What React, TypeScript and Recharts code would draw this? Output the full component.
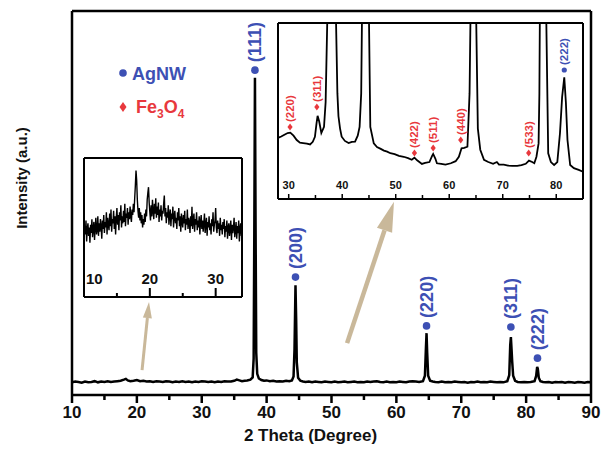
import { ComposedChart, Line, Scatter, XAxis, YAxis, ReferenceLine, Legend } from 'recharts'

const FONT = '"Liberation Sans", Arial, Helvetica, sans-serif'
const BLUE = '#3d50b4'
const RED = '#e8383d'
const TAN = '#c9b89a'

// main XRD pattern (2 theta in degrees, intensity in arbitrary units)
const mainAngles = [
  10, 10.5, 11, 11.5, 12, 12.5, 13, 13.5, 14, 14.5, 15, 15.5, 16, 16.5, 17, 17.5, 18, 18.3, 18.6, 19,
  19.5, 20, 20.5, 21, 21.5, 22, 22.5, 23, 23.5, 24, 24.5, 25, 25.5, 26, 26.5, 27, 27.5, 28, 28.5, 29,
  29.5, 30, 30.5, 31, 31.5, 32, 32.5, 33, 33.5, 34, 34.5, 35, 35.4, 35.8, 36.2, 36.6, 37, 37.5, 37.85, 38,
  38.1, 38.2, 38.3, 38.4, 38.55, 38.8, 39.2, 39.6, 40, 40.5, 41, 41.5, 42, 42.5, 43, 43.5, 43.9, 44.15, 44.3, 44.45,
  44.55, 44.65, 44.85, 45.2, 45.6, 46, 46.5, 47, 47.5, 48, 48.5, 49, 49.5, 50, 50.5, 51, 51.5, 52, 52.5, 53,
  53.5, 54, 54.5, 55, 55.5, 56, 56.5, 57, 57.5, 58, 58.5, 59, 59.5, 60, 60.5, 61, 61.5, 62, 62.5, 63,
  63.5, 64.1, 64.4, 64.55, 64.65, 64.75, 64.9, 65.2, 65.6, 66, 66.5, 67, 67.5, 68, 68.5, 69, 69.5, 70, 70.5, 71,
  71.5, 72, 72.5, 73, 73.5, 74, 74.5, 75, 75.5, 76, 76.5, 77.1, 77.4, 77.55, 77.65, 77.75, 77.85, 78, 78.3, 78.7,
  79.2, 79.7, 80.2, 80.7, 81.3, 81.55, 81.7, 81.8, 81.95, 82.2, 82.6, 83, 83.5, 84, 84.5, 85, 85.5, 86, 86.5, 87,
  87.5, 88, 88.5, 89, 89.5, 90,
]
const mainCounts = [
  33, 35, 34, 32, 35, 33, 34, 36, 33, 35, 34, 36, 34, 35, 36, 37, 40, 42, 38, 36,
  37, 39, 36, 37, 35, 36, 34, 36, 35, 34, 36, 35, 33, 35, 34, 36, 34, 35, 33, 35,
  34, 36, 35, 34, 35, 33, 35, 34, 36, 35, 35, 37, 40, 38, 36, 37, 38, 40, 46, 95,
  420, 826, 430, 110, 55, 43, 39, 37, 38, 36, 37, 35, 36, 35, 37, 36, 38, 48, 120, 286,
  200, 85, 45, 37, 35, 34, 35, 33, 35, 34, 33, 35, 34, 33, 35, 33, 34, 35, 33, 34,
  35, 33, 34, 33, 35, 34, 35, 36, 34, 33, 35, 33, 34, 33, 35, 34, 33, 35, 36, 35,
  34, 36, 50, 120, 161, 110, 50, 37, 35, 34, 33, 35, 33, 34, 33, 35, 34, 33, 34, 32,
  34, 33, 35, 33, 34, 33, 35, 34, 33, 34, 33, 36, 52, 130, 151, 120, 88, 50, 37, 34,
  33, 34, 33, 34, 36, 50, 73, 68, 45, 36, 34, 33, 34, 32, 34, 33, 34, 32, 34, 33,
  32, 34, 33, 32, 34, 33,
]
const mainTicks = [10, 15, 20, 25, 30, 35, 40, 45, 50, 55, 60, 65, 70, 75, 80, 85, 90]

// Ag reflections marked on the main pattern
const agAngles = [38.2, 44.45, 64.65, 77.65, 81.75]
const agLevels = [846, 307, 180, 177, 96]
const agLabels = ['(111)', '(200)', '(220)', '(311)', '(222)']

// arrows pointing to the insets, in data coordinates [angle, intensity]
const arrowSmall = [[20.8, 65], [21.87, 242]]
const arrowBig = [[52.4, 135], [59.63, 503]]

// low angle inset, scan from 10 degrees with 0.1 degree step
const lowScanStart = 10
const lowScanStep = 0.1
const lowCounts = [
  42, 51, 45, 55, 40, 49, 53, 44, 50, 39,
  52, 46, 56, 43, 49, 54, 41, 50, 57, 45,
  48, 58, 44, 53, 47, 56, 51, 42, 55, 49,
  59, 46, 54, 50, 61, 45, 57, 52, 48, 60,
  51, 63, 47, 56, 53, 62, 49, 58, 45, 57,
  64, 52, 59, 48, 61, 55, 66, 50, 58, 53,
  62, 54, 67, 51, 60, 57, 64, 52, 61, 56,
  65, 58, 54, 63, 59, 67, 61, 71, 80, 91,
  84, 70, 62, 57, 64, 55, 61, 53, 59, 50,
  56, 52, 60, 54, 63, 58, 70, 75, 79, 68,
  61, 55, 66, 58, 70, 62, 56, 67, 60, 71,
  57, 65, 59, 68, 54, 63, 58, 66, 55, 62,
  60, 67, 73, 58, 64, 53, 61, 57, 66, 52,
  59, 63, 51, 60, 56, 65, 50, 58, 62, 53,
  57, 49, 61, 55, 64, 51, 58, 47, 60, 54,
  50, 59, 53, 62, 48, 56, 52, 63, 49, 57,
  54, 46, 58, 51, 65, 49, 55, 60, 47, 56,
  52, 61, 48, 55, 50, 58, 45, 54, 59, 49,
  55, 47, 53, 60, 46, 52, 57, 44, 54, 50,
  58, 48, 53, 45, 56, 51, 61, 47, 52, 55,
  64, 50, 46, 55, 49, 53, 44, 57, 48, 52,
  45, 54, 49, 56, 43, 51, 47, 55, 42, 50,
  53, 44, 49, 55, 41, 52, 46, 50, 57, 43,
  48, 54, 42, 51, 46, 55, 40, 49, 53, 44,
  48,
]
const lowTicks = [10, 15, 20, 25, 30]

// magnified inset of the 28-85 degree range
const zoomAngles = [
  28, 28.6, 29.2, 29.8, 30.3, 30.9, 31.5, 32.1, 32.7, 33.4, 34, 34.5, 34.9, 35.2, 35.4, 35.7, 36.1, 36.6, 36.9, 37.2,
  37.35, 38.2, 38.7, 38.85, 39.1, 39.3, 39.6, 39.9, 40.5, 41.2, 41.8, 42.4, 42.9, 43.25, 43.55, 43.72, 43.85, 44.4, 44.85, 44.97,
  45.25, 45.9, 46.5, 47.2, 47.8, 48.4, 49, 49.8, 50.6, 51.5, 52.3, 53, 53.5, 54, 54.9, 55.5, 56.3, 56.8, 57, 57.4,
  57.7, 58.5, 59.3, 60.3, 61.2, 61.8, 62.3, 62.8, 63.4, 63.8, 64, 64.1, 64.55, 64.9, 65, 65.35, 65.8, 66.5, 67.3, 68.2,
  68.9, 69.3, 70.2, 71, 71.8, 72.7, 73.5, 74.3, 74.9, 75.5, 75.9, 76.3, 76.7, 76.85, 76.95, 77.05, 77.6, 78, 78.1, 78.5,
  79, 79.6, 80.2, 80.7, 81.1, 81.5, 81.8, 82.1, 82.6, 83.3, 84.2, 85,
]
const zoomCounts = [
  34.7, 35.5, 36.5, 37.5, 37.7, 36, 33.5, 32, 31.8, 31.5, 31, 32.5, 35.3, 43, 47.3, 44, 37.5, 41, 55, 100,
  400, 3000, 400, 100, 60, 47, 40, 35.4, 33, 31.8, 32.5, 32.6, 36, 41, 60, 110, 400, 3000, 400, 110,
  41, 31.6, 29.5, 28.5, 27.5, 26.9, 26, 25.5, 24.5, 24, 23.2, 22.3, 23.5, 22, 19.9, 20.5, 21, 24.5, 25.6, 23,
  20.3, 20, 19.5, 20.3, 21.5, 24, 28.8, 29, 29.7, 60, 110, 400, 3000, 400, 110, 40, 28, 22.2, 21, 20,
  21, 19.5, 19.5, 19, 18.8, 18.8, 19.2, 20, 21.8, 21, 20.3, 24, 31.6, 60, 110, 400, 3000, 400, 110, 26,
  21, 19.3, 21, 37.5, 58, 69.1, 55, 33.5, 19.3, 17.5, 16.5, 15.5,
]
const zoomTicks = [30, 35, 40, 45, 50, 55, 60, 65, 70, 75, 80, 85]

// reflections marked in the magnified inset
const zoomPeakAngles = [30.25, 35.26, 53.5, 57.0, 62.15, 74.85, 81.5]
const zoomPeakLevels = [40.9, 52.3, 26.1, 29, 33.5, 26.1, 73.3]
const zoomPeakLabels = ['(220)', '(311)', '(422)', '(511)', '(440)', '(533)', '(222)']
const zoomPeakPhases = ['Fe3O4', 'Fe3O4', 'Fe3O4', 'Fe3O4', 'Fe3O4', 'Fe3O4', 'AgNW']

const mainData = mainAngles.map((angle, i) => ({ angle, counts: mainCounts[i] }))
const agData = agAngles.map((angle, i) => ({ angle, level: agLevels[i], label: agLabels[i] }))
const lowData = lowCounts.map((counts, i) => ({ angle: lowScanStart + i * lowScanStep, counts }))
const zoomData = zoomAngles.map((angle, i) => ({ angle, counts: zoomCounts[i] }))
const zoomPeakData = zoomPeakAngles.map((angle, i) => ({
  angle,
  level: zoomPeakLevels[i],
  label: zoomPeakLabels[i],
  phase: zoomPeakPhases[i],
}))

const frame = { stroke: '#000', strokeWidth: 2.5 }
const thinFrame = { stroke: '#000', strokeWidth: 2 }

function MainTick({ x, y, payload }: any) {
  const major = payload.value % 10 === 0
  return (
    <g>
      <line x1={x} y1={y} x2={x} y2={y + (major ? 8 : 5)} stroke="#000" strokeWidth={2.5} />
      {major && (
        <text x={x} y={y + 23} textAnchor="middle" fontSize={17} fontWeight="bold" fontFamily={FONT} fill="#111">
          {payload.value}
        </text>
      )}
    </g>
  )
}

function LowTick({ x, y, payload }: any) {
  const major = payload.value % 10 === 0
  const first = payload.value === lowTicks[0]
  return (
    <g>
      {!first && <line x1={x} y1={y} x2={x} y2={y - (major ? 9 : 4)} stroke="#000" strokeWidth={2} />}
      {major && (
        <text
          x={first ? x + 2 : x}
          y={y - 13}
          textAnchor={first ? 'start' : 'middle'}
          fontSize={15}
          fontWeight="bold"
          fontFamily={FONT}
          fill="#111"
        >
          {payload.value}
        </text>
      )}
    </g>
  )
}

function ZoomTick({ x, y, payload }: any) {
  const major = payload.value % 10 === 0
  return (
    <g>
      <line x1={x} y1={y} x2={x} y2={y - (major ? 5 : 4)} stroke="#000" strokeWidth={1.5} />
      {major && (
        <text x={x} y={y - 10} textAnchor="middle" fontSize={11} fontWeight="bold" fontFamily={FONT} fill="#111">
          {payload.value}
        </text>
      )}
    </g>
  )
}

function AgMarker({ cx, cy, payload }: any) {
  return (
    <g>
      <circle cx={cx} cy={cy} r={3.8} fill={BLUE} />
      <text
        transform={`translate(${cx},${cy - 8}) rotate(-90)`}
        dy="0.35em"
        fontSize={18}
        fontWeight="bold"
        fontFamily={FONT}
        fill={BLUE}
      >
        {payload.label}
      </text>
    </g>
  )
}

function ZoomMarker({ cx, cy, payload }: any) {
  const ag = payload.phase === 'AgNW'
  const color = ag ? BLUE : RED
  return (
    <g>
      {ag ? (
        <circle cx={cx} cy={cy} r={2.6} fill={color} />
      ) : (
        <polygon points={`${cx},${cy - 3.5} ${cx + 2.6},${cy} ${cx},${cy + 3.5} ${cx - 2.6},${cy}`} fill={color} />
      )}
      <text
        transform={`translate(${cx},${cy - 5}) rotate(-90)`}
        dy="0.35em"
        fontSize={11.5}
        fontWeight="bold"
        fontFamily={FONT}
        fill={color}
      >
        {payload.label}
      </text>
    </g>
  )
}

function arrowShape(width: number, headLen: number, headWidth: number) {
  return (props: any) => {
    const { x1, y1, x2, y2 } = props
    const len = Math.hypot(x2 - x1, y2 - y1) || 1
    const ux = (x2 - x1) / len
    const uy = (y2 - y1) / len
    const bx = x2 - ux * headLen
    const by = y2 - uy * headLen
    const px = -uy * (headWidth / 2)
    const py = ux * (headWidth / 2)
    return (
      <g>
        <line x1={x1} y1={y1} x2={bx} y2={by} stroke={TAN} strokeWidth={width} />
        <polygon points={`${x2},${y2} ${bx + px},${by + py} ${bx - px},${by - py}`} fill={TAN} />
      </g>
    )
  }
}

function xTitle(props: any) {
  const vb = props.viewBox ?? { x: 72, y: 395, width: 519, height: 61 }
  return (
    <text x={vb.x + vb.width / 2 - 21} y={vb.y + 46} textAnchor="middle" fontSize={17} fontWeight="bold" fontFamily={FONT} fill="#111">
      2 Theta (Degree)
    </text>
  )
}

function yTitle(props: any) {
  const vb = props.viewBox ?? { x: 71, y: 11, width: 1, height: 384 }
  return (
    <text
      transform={`translate(${vb.x - 49},${vb.y + vb.height / 2 - 25}) rotate(-90)`}
      textAnchor="middle"
      dy="0.35em"
      fontSize={15}
      fontWeight="bold"
      fontFamily={FONT}
      fill="#111"
    >
      Intensity (a.u.)
    </text>
  )
}

function LegendBox() {
  return (
    <svg width={100} height={60} style={{ display: 'block' }}>
      <circle cx={8} cy={13} r={3.8} fill={BLUE} />
      <text x={17} y={19.5} fill={BLUE} fontSize={18} fontWeight="bold" fontFamily={FONT}>
        AgNW
      </text>
      <polygon points="8,42 11.5,47 8,52 4.5,47" fill={RED} />
      <text x={21} y={52.5} fill={RED} fontSize={18} fontWeight="bold" fontFamily={FONT}>
        Fe
        <tspan fontSize={12} dy={5}>3</tspan>
        <tspan dy={-5}>O</tspan>
        <tspan fontSize={12} dy={5}>4</tspan>
      </text>
    </svg>
  )
}

function MainChart() {
  return (
    <ComposedChart width={603} height={456} margin={{ top: 10, right: 11, bottom: 0, left: 71 }}>
      <XAxis
        xAxisId="b"
        dataKey="angle"
        type="number"
        domain={[10, 90]}
        ticks={mainTicks}
        interval={0}
        tickSize={0}
        tickMargin={0}
        tickLine={false}
        height={61}
        axisLine={frame}
        tick={(p: any) => <MainTick {...p} />}
        label={xTitle}
      />
      <XAxis xAxisId="t" orientation="top" dataKey="angle" type="number" domain={[10, 90]} height={1} tick={false} tickLine={false} axisLine={frame} />
      <YAxis yAxisId="l" type="number" domain={[0, 1000]} width={1} tick={false} tickLine={false} axisLine={frame} label={yTitle} />
      <YAxis yAxisId="r" orientation="right" type="number" domain={[0, 1000]} width={1} tick={false} tickLine={false} axisLine={frame} />
      <ReferenceLine
        xAxisId="b"
        yAxisId="l"
        segment={[{ x: arrowSmall[0][0], y: arrowSmall[0][1] }, { x: arrowSmall[1][0], y: arrowSmall[1][1] }]}
        shape={arrowShape(3, 16, 9)}
      />
      <ReferenceLine
        xAxisId="b"
        yAxisId="l"
        segment={[{ x: arrowBig[0][0], y: arrowBig[0][1] }, { x: arrowBig[1][0], y: arrowBig[1][1] }]}
        shape={arrowShape(4.5, 30, 16)}
      />
      <Line
        xAxisId="b"
        yAxisId="l"
        data={mainData}
        dataKey="counts"
        type="linear"
        stroke="#000"
        strokeWidth={2.5}
        dot={false}
        activeDot={false}
        isAnimationActive={false}
      />
      <Scatter xAxisId="b" yAxisId="l" data={agData} dataKey="level" shape={(p: any) => <AgMarker {...p} />} isAnimationActive={false} />
      <Legend
        layout="horizontal"
        verticalAlign="middle"
        align="center"
        wrapperStyle={{ left: 115, top: 60, width: 100, height: 60 }}
        content={() => <LegendBox />}
      />
    </ComposedChart>
  )
}

function LowAngleInset() {
  return (
    <ComposedChart width={162} height={143} margin={{ top: 1, right: 1, bottom: 0, left: 1 }}>
      <XAxis
        xAxisId="b"
        dataKey="angle"
        type="number"
        domain={[10, 34]}
        ticks={lowTicks}
        interval={0}
        tickSize={0}
        tickMargin={0}
        tickLine={false}
        height={2}
        axisLine={thinFrame}
        tick={(p: any) => <LowTick {...p} />}
      />
      <XAxis xAxisId="t" orientation="top" dataKey="angle" type="number" domain={[10, 34]} height={1} tick={false} tickLine={false} axisLine={thinFrame} />
      <YAxis yAxisId="l" type="number" domain={[0, 100]} width={1} tick={false} tickLine={false} axisLine={thinFrame} />
      <YAxis yAxisId="r" orientation="right" type="number" domain={[0, 100]} width={1} tick={false} tickLine={false} axisLine={thinFrame} />
      <Line
        xAxisId="b"
        yAxisId="l"
        data={lowData}
        dataKey="counts"
        type="linear"
        stroke="#000"
        strokeWidth={1.4}
        dot={false}
        activeDot={false}
        isAnimationActive={false}
      />
    </ComposedChart>
  )
}

function MagnifiedInset() {
  return (
    <ComposedChart width={309} height={179} margin={{ top: 0, right: 1, bottom: 0, left: 1 }}>
      <XAxis
        xAxisId="b"
        dataKey="angle"
        type="number"
        domain={[28, 85]}
        ticks={zoomTicks}
        interval={0}
        tickSize={0}
        tickMargin={0}
        tickLine={false}
        height={2}
        axisLine={thinFrame}
        tick={(p: any) => <ZoomTick {...p} />}
      />
      <XAxis xAxisId="t" orientation="top" dataKey="angle" type="number" domain={[28, 85]} height={1} tick={false} tickLine={false} axisLine={thinFrame} />
      <YAxis yAxisId="l" type="number" domain={[0, 100]} allowDataOverflow width={1} tick={false} tickLine={false} axisLine={thinFrame} />
      <YAxis yAxisId="r" orientation="right" type="number" domain={[0, 100]} width={1} tick={false} tickLine={false} axisLine={thinFrame} />
      <Line
        xAxisId="b"
        yAxisId="l"
        data={zoomData}
        dataKey="counts"
        type="linear"
        stroke="#000"
        strokeWidth={1.8}
        dot={false}
        activeDot={false}
        isAnimationActive={false}
      />
      <Scatter xAxisId="b" yAxisId="l" data={zoomPeakData} dataKey="level" shape={(p: any) => <ZoomMarker {...p} />} isAnimationActive={false} />
    </ComposedChart>
  )
}

export default function App() {
  return (
    <div style={{ position: 'absolute', left: 0, top: 0, width: 603, height: 456, background: '#fff', fontFamily: FONT }}>
      <MainChart />
      <div style={{ position: 'absolute', left: 82, top: 156, width: 162, height: 143, background: '#fff' }}>
        <LowAngleInset />
      </div>
      <div style={{ position: 'absolute', left: 276, top: 22, width: 309, height: 179, background: '#fff', overflow: 'hidden' }}>
        <MagnifiedInset />
      </div>
    </div>
  )
}
